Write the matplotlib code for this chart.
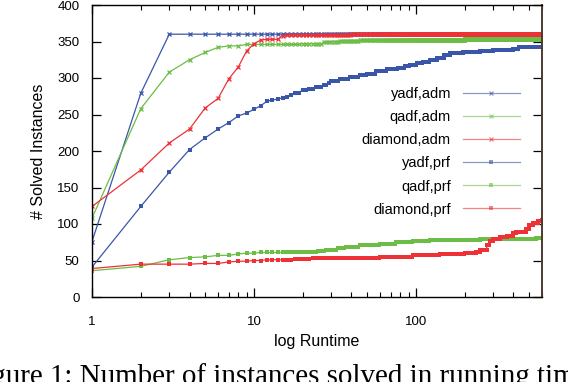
import numpy as np
import matplotlib
matplotlib.use("Agg")
import matplotlib.pyplot as plt
from matplotlib.ticker import LogLocator, FixedLocator, NullFormatter, FixedFormatter

plt.rcParams['font.family'] = ['Liberation Sans', 'DejaVu Sans']

# Cumulative solved instances: (time in s where count changes, new count)
yadf_adm_t = [1, 2, 3]
yadf_adm_n = [76, 279, 360]

qadf_adm_t = [1, 2, 3, 4, 5, 6, 7, 9, 20, 27, 30, 34, 45, 200]
qadf_adm_n = [108, 258, 308, 325, 335, 342, 344, 346, 347, 349, 350, 351, 352, 353]

diamond_adm_t = [1, 2, 3, 4, 5, 6, 7, 8, 9, 10, 11, 12, 15, 16, 40]
diamond_adm_n = [124, 174, 211, 230, 259, 272, 299, 315, 337, 347, 352, 353, 358, 359, 360]

yadf_prf_t = [1, 2, 3, 4, 5, 6, 7, 8, 9, 10, 11, 12, 13, 14, 15, 16, 17, 18, 20, 22, 24,
              27, 29, 30, 34, 39, 45, 50, 57, 66, 77, 85, 92, 101, 110, 122, 135, 150,
              163, 195, 248, 300, 364, 400, 430, 500]
yadf_prf_n = [41, 124, 171, 202, 218, 230, 239, 248, 252, 257, 262, 268, 270, 271, 273, 274,
              277, 280, 284, 285, 288, 290, 293, 296, 299, 301, 304, 306, 309, 312, 314, 316,
              318, 320, 322, 325, 328, 331, 334, 336, 337, 338, 339, 340, 342, 343]

qadf_prf_t = [1, 2, 3, 4, 5, 6, 8, 9, 11, 22, 25, 28, 33, 37, 45, 60, 75, 96, 122, 248, 398, 550]
qadf_prf_n = [36, 42, 51, 54, 55, 57, 59, 60, 61, 62, 63, 65, 67, 69, 71, 73, 75, 77, 78, 79, 80, 81]

diamond_prf_t = [1, 2, 5, 7, 8, 10, 12, 18, 23, 37, 60, 96, 140, 200, 236, 250, 274, 285,
                 301, 330, 364, 398, 417, 480, 500, 530, 570, 600]
diamond_prf_n = [39, 45, 46, 48, 49, 50, 51, 52, 53, 54, 55, 57, 59, 60, 62, 64, 71, 77,
                 79, 82, 84, 88, 89, 93, 98, 102, 104, 105]

T_MAX = 600
labels = ["yadf,adm", "qadf,adm", "diamond,adm", "yadf,prf", "qadf,prf", "diamond,prf"]

BLUE = '#3a56a8'
GREEN = '#6cbd45'
RED = '#ee3136'


def expand(ts, ns):
    t = np.arange(1, T_MAX + 1)
    idx = np.searchsorted(np.array(ts), t, side='right') - 1
    return t, np.array(ns)[idx]


series = [
    (yadf_adm_t, yadf_adm_n, BLUE, 'x'),
    (qadf_adm_t, qadf_adm_n, GREEN, 'x'),
    (diamond_adm_t, diamond_adm_n, RED, 'x'),
    (yadf_prf_t, yadf_prf_n, BLUE, 's'),
    (qadf_prf_t, qadf_prf_n, GREEN, 's'),
    (diamond_prf_t, diamond_prf_n, RED, 's'),
]

fig = plt.figure(figsize=(5.68, 3.82), dpi=100)
ax = fig.add_axes([92 / 568, 1 - 297 / 382, (542 - 92) / 568, (297 - 5) / 382])

for (ts, ns, c, m), lab in zip(series, labels):
    t, n = expand(ts, ns)
    if m == 'x':
        ax.plot(t, n, color=c, lw=0.9, marker='x', ms=3.2, mew=0.9, label=lab)
    else:
        ax.plot(t, n, color=c, lw=0.9, marker='s', ms=3.2, mew=0, label=lab)

ax.set_xscale('log')
ax.set_xlim(1, T_MAX)
ax.set_ylim(0, 400)
ax.set_yticks(np.arange(0, 401, 50))
ax.xaxis.set_major_locator(FixedLocator([1, 10, 100]))
ax.xaxis.set_major_formatter(FixedFormatter(['1', '10', '100']))
ax.xaxis.set_minor_locator(LogLocator(base=10, subs=np.arange(2, 10), numticks=20))
ax.xaxis.set_minor_formatter(NullFormatter())

ax.tick_params(which='both', direction='in', top=True, right=True, labelsize=9.5, color='black')
ax.tick_params(which='major', length=6.5, width=0.9)
ax.tick_params(which='minor', length=3.5, width=0.8)
ax.tick_params(axis='x', which='major', pad=14)
ax.tick_params(axis='y', which='major', pad=9)

for s in ax.spines.values():
    s.set_linewidth(1.0)
ax.spines['right'].set_color('#4d3b30')
ax.spines['right'].set_linewidth(1.4)

ax.set_xlabel('log Runtime', fontsize=11.5, labelpad=4)
ax.set_ylabel('# Solved Instances', fontsize=11.5, labelpad=8)

leg = ax.legend(loc='upper right', bbox_to_anchor=(0.963, 0.738), frameon=False,
                markerfirst=False, fontsize=10.5, handlelength=3.9, handletextpad=0.8,
                labelspacing=0.62, borderaxespad=0)
for h in leg.legend_handles:
    h.set_alpha(0.6)

fig.text(-33 / 568, -2 / 382, 'Figure 1: Number of instances solved in running time',
         fontsize=20.9, family=['Liberation Serif', 'DejaVu Serif'], ha='left', va='baseline')

fig.savefig('out.png', dpi=100)
